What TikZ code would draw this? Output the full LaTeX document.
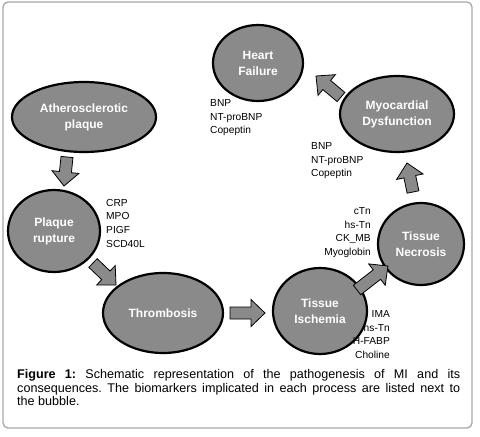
\documentclass[tikz,border=0pt]{standalone}
\usepackage{fontspec}
\setmainfont{Liberation Sans}
\usetikzlibrary{calc,shapes.geometric}
\definecolor{bubble}{RGB}{138,138,138}
\definecolor{framegray}{RGB}{168,168,168}
\frenchspacing
\newcommand\blockarrow[2]{%
  \coordinate (hb) at ($(#2)!14pt!(#1)$);
  \draw[blk] ($(#1)!6pt!90:(#2)$) -- ($(hb)!6pt!-90:(#1)$) -- ($(hb)!13.5pt!-90:(#1)$)
    -- (#2) -- ($(hb)!13.5pt!90:(#1)$) -- ($(hb)!6pt!90:(#1)$) -- ($(#1)!6pt!-90:(#2)$) -- cycle;}
\begin{document}
\begin{tikzpicture}[x=1pt,y=-1pt,
  bub/.style={ellipse, draw=black, line width=2.2pt, fill=bubble, text=white,
    font=\fontsize{12}{16}\selectfont\bfseries, align=center, inner sep=0pt},
  lbl/.style={font=\fontsize{10.2}{13.6}\selectfont, inner sep=0pt, text=black},
  blk/.style={draw=black, line width=0.8pt, fill=bubble, line join=miter}]
\useasboundingbox (0,0) rectangle (480,437);
\draw[framegray, line width=1.3pt, rounded corners=5pt] (3,2) rectangle (472,428);

\node[bub, minimum width=144pt, minimum height=70pt] (ath) at (84,117) {Atherosclerotic\\plaque};
\node[bub, minimum width=92pt, minimum height=82pt] (rup) at (54,231) {Plaque\\rupture};
\node[bub, minimum width=120pt, minimum height=80pt] (thr) at (163,313) {Thrombosis};
\node[bub, minimum width=94pt, minimum height=86pt] (isc) at (320,311) {Tissue\\Ischemia};
\node[bub, minimum width=86pt, minimum height=82pt] (nec) at (421,244) {Tissue\\Necrosis};
\node[bub, minimum width=114pt, minimum height=76pt] (myo) at (397,114) {Myocardial\\Dysfunction};
\node[bub, minimum width=90pt, minimum height=76pt] (hf) at (258,63) {Heart\\Failure};

\coordinate (t1) at (67,157); \coordinate (h1) at (64,186);
\coordinate (t2) at (93,263); \coordinate (h2) at (116,285);
\coordinate (t3) at (230,313); \coordinate (h3) at (265,313);
\coordinate (t4) at (357,290); \coordinate (h4) at (388,266);
\coordinate (t5) at (413,192); \coordinate (h5) at (407,163);
\coordinate (t6) at (341,97); \coordinate (h6) at (316,76);
\blockarrow{t1}{h1}
\blockarrow{t2}{h2}
\blockarrow{t3}{h3}
\blockarrow{t4}{h4}
\blockarrow{t5}{h5}
\blockarrow{t6}{h6}

\node[lbl, anchor=north west, align=left] (hfl) at (210,99.5) {BNP\\NT-proBNP\\Copeptin};
\node[lbl, anchor=north west, align=left] (myol) at (311,142.5) {BNP\\NT-proBNP\\Copeptin};
\node[lbl, anchor=north west, align=left] (rupl) at (106,199) {CRP\\MPO\\PIGF\\SCD40L};
\node[lbl, anchor=north east, align=right] (necl) at (371,207.5) {cTn\\hs-Tn\\CK\_MB\\Myoglobin};
\node[lbl, anchor=north east, align=right] (iscl) at (390,310.5) {IMA\\hs-Tn\\H-FABP\\Choline};

\node[anchor=north west, inner sep=0pt, text width=443pt, align=justify,
  font=\fontsize{12.6}{13.8}\selectfont] (cap) at (17,369)
  {\hyphenpenalty=10000\frenchspacing\textbf{Figure 1:} Schematic representation of the pathogenesis of MI and its\linebreak consequences. The biomarkers implicated in each process are listed next to\linebreak the bubble.};
\end{tikzpicture}
\end{document}
